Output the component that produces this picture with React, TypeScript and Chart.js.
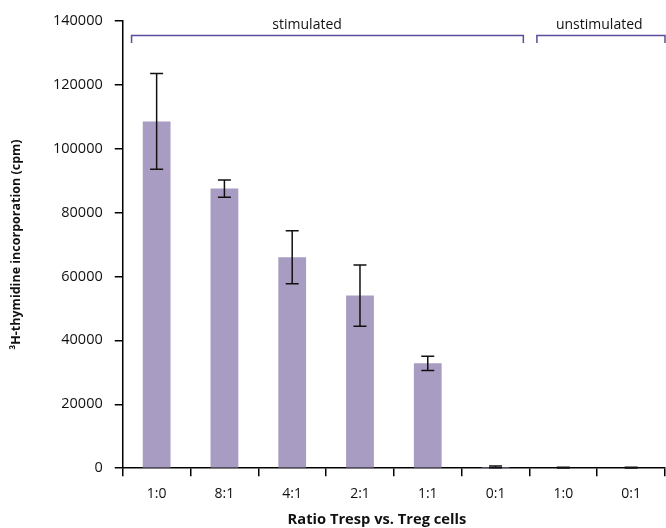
import React, { useEffect, useRef } from "react";
import { Chart, registerables } from "chart.js";

Chart.register(...registerables);

const categories = ["1:0", "8:1", "4:1", "2:1", "1:1", "0:1", "1:0", "0:1"];
const values = [108500, 87500, 66000, 54000, 32800, 400, 200, 200];
const errors = [15000, 2700, 8300, 9600, 2200, 250, 100, 100];
const groupLabels = ["stimulated", "unstimulated"];
const xTitle = "Ratio Tresp vs. Treg cells";
const yTitle = "³H-thymidine incorporation (cpm)";
const yTicksMax = 140000;
const yStep = 20000;

const FONT = "'Open Sans', 'DejaVu Sans', sans-serif";
const BRACKET = "#5d4b9c";

// bracket spans in category-index units
const bracketSpans = [
  { from: -0.37, to: 5.41, text: 2.22 },
  { from: 5.61, to: 7.5, text: 6.53 },
];

const errorBarPlugin = {
  id: "errorBars",
  afterDatasetsDraw(chart: any) {
    const ctx = chart.ctx;
    const x = chart.scales.x;
    const y = chart.scales.y;
    ctx.save();
    ctx.strokeStyle = "#111";
    ctx.lineWidth = 1.5;
    values.forEach((v, i) => {
      const px = x.getPixelForValue(i);
      const top = y.getPixelForValue(v + errors[i]);
      const bot = y.getPixelForValue(Math.max(0, v - errors[i]));
      ctx.beginPath();
      ctx.moveTo(px, top);
      ctx.lineTo(px, bot);
      ctx.moveTo(px - 6.5, top);
      ctx.lineTo(px + 6.5, top);
      ctx.moveTo(px - 6.5, bot);
      ctx.lineTo(px + 6.5, bot);
      ctx.stroke();
    });
    ctx.restore();
  },
};

const bracketPlugin = {
  id: "brackets",
  afterDraw(chart: any) {
    const ctx = chart.ctx;
    const x = chart.scales.x;
    const lineY = 35.5;
    ctx.save();
    ctx.strokeStyle = BRACKET;
    ctx.lineWidth = 1.5;
    ctx.fillStyle = "#111";
    ctx.font = `14px ${FONT}`;
    ctx.textAlign = "center";
    ctx.textBaseline = "alphabetic";
    bracketSpans.forEach((b, i) => {
      const x0 = x.getPixelForValue(b.from);
      const x1 = x.getPixelForValue(b.to);
      ctx.beginPath();
      ctx.moveTo(x0, lineY + 7.5);
      ctx.lineTo(x0, lineY);
      ctx.lineTo(x1, lineY);
      ctx.lineTo(x1, lineY + 7.5);
      ctx.stroke();
      ctx.fillText(groupLabels[i], x.getPixelForValue(b.text), 29);
    });
    // x-axis title (positioned like the original, slightly left of centre)
    ctx.font = `bold 14.7px ${FONT}`;
    ctx.textBaseline = "middle";
    ctx.fillText(xTitle, x.getPixelForValue(3.25), 520);
    ctx.restore();
  },
};

export default function App() {
  const ref = useRef<HTMLCanvasElement>(null);
  useEffect(() => {
    if (!ref.current) return;
    const chart = new Chart(ref.current, {
      type: "bar",
      data: {
        labels: categories,
        datasets: [
          {
            data: values,
            backgroundColor: "#a99cc3",
            barPercentage: 0.41,
            categoryPercentage: 1,
          },
        ],
      },
      options: {
        responsive: false,
        animation: false,
        layout: { padding: { top: 13, right: 1, left: 9, bottom: 17 } },
        plugins: { legend: { display: false }, tooltip: { enabled: false } },
        scales: {
          x: {
            offset: true,
            grid: {
              display: true,
              drawOnChartArea: false,
              offset: true,
              tickLength: 8,
              color: "#000",
              lineWidth: 1.5,
            },
            border: { color: "#000", width: 1.5 },
            ticks: { color: "#111", font: { family: FONT, size: 14 }, padding: 9 },
            title: { display: false },
          },
          y: {
            min: 0,
            max: yTicksMax,
            ticks: {
              stepSize: yStep,
              color: "#111",
              font: { family: FONT, size: 14.5 },
              padding: 12,
              callback: (v: any) => String(v),
            },
            grid: {
              display: true,
              drawOnChartArea: false,
              tickLength: 8,
              color: "#000",
              lineWidth: 1.5,
            },
            border: { color: "#000", width: 1.5 },
            title: {
              display: true,
              text: yTitle,
              color: "#111",
              font: { family: FONT, size: 12.5, weight: "bold" },
              padding: { top: 0, bottom: 17 },
            },
          },
        },
      },
      plugins: [errorBarPlugin, bracketPlugin],
    });
    return () => chart.destroy();
  }, []);
  return (
    <div style={{ position: "fixed", left: 0, top: 0, width: 666, height: 528, background: "#fff" }}>
      <canvas ref={ref} width={666} height={528} />
    </div>
  );
}
